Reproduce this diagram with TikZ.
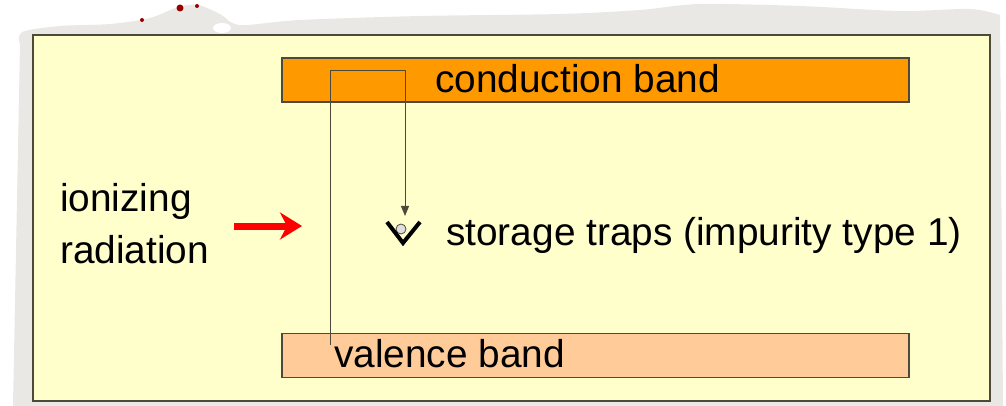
\documentclass[tikz,border=0pt]{standalone}
\usepackage{fontspec}
\setmainfont{Liberation Sans}
\usetikzlibrary{arrows.meta}
\definecolor{paper}{HTML}{EAE8E4}
\definecolor{slide}{HTML}{FFFFCC}
\definecolor{cbcol}{HTML}{FF9900}
\definecolor{vbcol}{HTML}{FFCC99}
\definecolor{edge}{HTML}{4D4A3C}
\tikzset{
  band/.style={draw=edge, line width=1.5pt, minimum width=627pt, minimum height=44pt, inner sep=0pt},
  bigtext/.style={font=\fontsize{38.8}{52}\selectfont, inner sep=0pt},
  path/.style={draw=edge, line width=1pt}
}
\begin{document}
\begin{tikzpicture}[x=1pt,y=-1pt]
\useasboundingbox (0,0) rectangle (1006,406);
% torn paper behind the slide
\fill[paper] plot[smooth] coordinates {(20,45) (22,32) (60,26) (110,24) (150,18) (178,7) (198,5) (220,14) (240,25) (300,20) (420,16) (560,14) (640,10) (700,4) (800,6) (900,11) (970,9) (1000,15)}
  -- (1003,406) -- (13,406) -- cycle;
\fill[white] (222,28) ellipse (9pt and 5pt);
\fill[red!60!black] (180,8) circle (3.5pt) (197,6) circle (2pt) (142,20) circle (2pt);
% slide
\draw[edge, line width=1.2pt, fill=slide] (33,35) rectangle (990,401);
% bands
\node[band, fill=cbcol] (cband) at (595.5,80) {};
\node[band, fill=vbcol] (vband) at (595.5,355.5) {};
\node[bigtext, anchor=west] (cbtext) at (435,79) {conduction band};
\node[bigtext, anchor=west] (vbtext) at (334,354) {valence band};
% trap
\node[circle, draw=edge, fill=gray!25, minimum size=10pt, inner sep=0pt, line width=0.8pt] (trap) at (401,229) {};
\draw[black, line width=4pt] (387,222) -- (403,243) -- (420,222);
\node[bigtext, anchor=west] (traptext) at (446,235) {storage traps (impurity type 1)};
% radiation
\node[bigtext, anchor=west, align=left] (radtext) at (60,224) {ionizing\\radiation};
\coordinate (radtip) at (302,226);
\draw[red, line width=7pt, -{Stealth[length=22pt, width=27pt, inset=7pt]}] (234,226) -- (radtip);
% electron path
\coordinate (exc) at (330,345);
\draw[path, -{Triangle[length=10pt, width=8pt]}] (exc) -- (330,71) -- (405,71) -- (405,216);
\end{tikzpicture}
\end{document}
